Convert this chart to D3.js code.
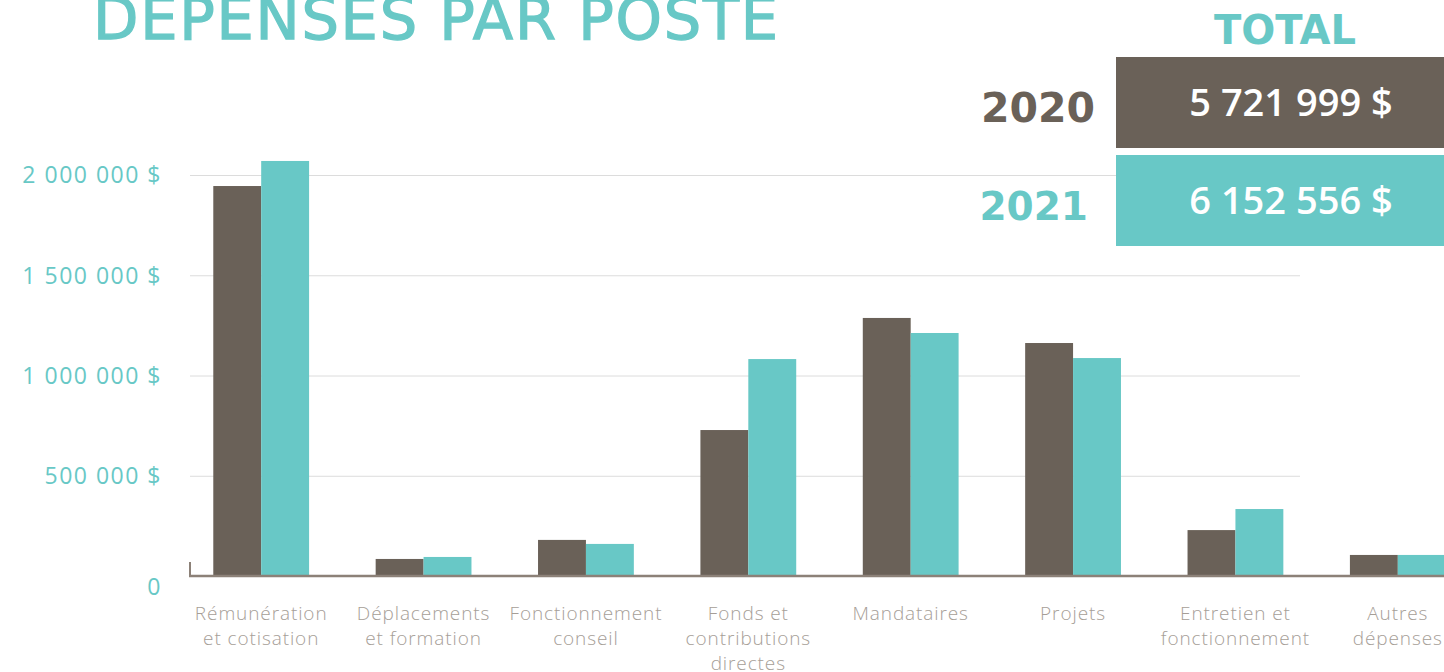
<!DOCTYPE html>
<html>
<head>
<meta charset="utf-8">
<script src="https://cdn.jsdelivr.net/npm/d3@7"></script>
<style>
    body { margin: 0; background: #fff; }
    svg { display: block; }
</style>
</head>
<body>
<div id="chart"></div>
<script>
// Chart values
const categories = [
    ["Rémunération", "et cotisation"],
    ["Déplacements", "et formation"],
    ["Fonctionnement", "conseil"],
    ["Fonds et", "contributions", "directes"],
    ["Mandataires"],
    ["Projets"],
    ["Entretien et", "fonctionnement"],
    ["Autres", "dépenses"]
];
const years = ["2020", "2021"];
const values2020 = [1945000, 85000, 180000, 728000, 1287000, 1162000, 229000, 105000];
const values2021 = [2070000, 95000, 160000, 1082000, 1212000, 1087000, 334000, 105000];
const totals = [5721999, 6152556];
const yTicks = [0, 500000, 1000000, 1500000, 2000000];

const brown = "#6a6158",
    teal = "#68c8c6";

const width = 1444, height = 672;

const svg = d3.select("#chart")
    .append("svg")
    .attr("width", width)
    .attr("height", height);

// French style numbers: 2 000 000 $
const fmt = d3.format(",d");
const money = d => fmt(d).replace(/,/g, " ") + " $";

// Scales
const x = d3.scaleBand()
    .domain(d3.range(categories.length))
    .range([180, 1479])
    .paddingInner(0.41)
    .paddingOuter(0.205);

const xSub = d3.scaleBand()
    .domain(years)
    .range([0, x.bandwidth()]);

const y = d3.scaleLinear()
    .domain([0, 2000000])
    .range([576, 175]);

// Gridlines
svg.append("g")
    .selectAll("line")
    .data(yTicks.filter(d => d > 0))
    .join("line")
    .attr("x1", 190)
    .attr("x2", 1300)
    .attr("y1", d => y(d) + 0.5)
    .attr("y2", d => y(d) + 0.5)
    .attr("stroke", "#dcdcdc")
    .attr("stroke-width", 1);

// Y axis labels
const yAxis = svg.append("g")
    .attr("transform", "translate(162,0)")
    .call(d3.axisLeft(y).tickValues(yTicks).tickSize(0).tickPadding(0)
        .tickFormat(d => d === 0 ? "0" : money(d)));
yAxis.select(".domain").remove();
yAxis.selectAll("text")
    .attr("fill", teal)
    .style("font-family", "'Open Sans', sans-serif")
    .style("font-size", "23px")
    .style("font-weight", 400)
    .style("letter-spacing", "1.5px")
    .attr("dy", d => d === 0 ? "0.8em" : "0.34em");

// Bars
const series = [values2020, values2021];
const colors = [brown, teal];
series.forEach((vals, i) => {
    svg.append("g")
        .selectAll("rect")
        .data(vals)
        .join("rect")
        .attr("x", (d, j) => x(j) + xSub(years[i]))
        .attr("width", xSub.bandwidth())
        .attr("y", d => y(d))
        .attr("height", d => y(0) - y(d) + 1)
        .attr("fill", colors[i]);
});

// Baseline axis
svg.append("line")
    .attr("x1", 189).attr("x2", width)
    .attr("y1", y(0)).attr("y2", y(0))
    .attr("stroke", "#8c8178").attr("stroke-width", 2.5);
svg.append("line")
    .attr("x1", 190).attr("x2", 190)
    .attr("y1", y(0) - 14).attr("y2", y(0))
    .attr("stroke", "#8c8178").attr("stroke-width", 2);

// Category labels
const catG = svg.append("g")
    .selectAll("text")
    .data(categories)
    .join("text")
    .attr("x", (d, i) => x(i) + x.bandwidth() / 2)
    .attr("y", 620)
    .attr("text-anchor", "middle")
    .attr("fill", "#a69e97")
    .style("font-family", "'Open Sans', sans-serif")
    .style("font-size", "19px")
    .style("font-weight", 300)
    .style("letter-spacing", "0.9px");
catG.selectAll("tspan")
    .data(d => d)
    .join("tspan")
    .attr("x", function() { return this.parentNode.getAttribute("x"); })
    .attr("dy", (d, i) => i === 0 ? 0 : 25)
    .text(d => d);

// Title
svg.append("text")
    .attr("x", 93)
    .attr("y", 39)
    .attr("fill", teal)
    .attr("stroke", teal)
    .attr("stroke-width", 1.3)
    .style("font-family", "'DejaVu Sans', sans-serif")
    .style("font-size", "59px")
    .style("font-weight", 400)
    .attr("textLength", 685)
    .text("DEPENSES PAR POSTE");

// Totals panel
svg.append("text")
    .attr("x", 1285)
    .attr("y", 44)
    .attr("text-anchor", "middle")
    .attr("fill", teal)
    .style("font-family", "'DejaVu Sans', sans-serif")
    .style("font-size", "40px")
    .style("font-weight", 700)
    .text("TOTAL");

const boxY = [57, 155];
totals.forEach((t, i) => {
    svg.append("rect")
        .attr("x", 1116)
        .attr("y", boxY[i])
        .attr("width", width - 1116)
        .attr("height", 91)
        .attr("fill", colors[i]);
    svg.append("text")
        .attr("x", 1291)
        .attr("y", boxY[i] + 59)
        .attr("text-anchor", "middle")
        .attr("fill", "#fff")
        .style("font-family", "'Open Sans', sans-serif")
        .style("font-size", "38px")
        .style("font-weight", 600)
        .text(money(t));
    svg.append("text")
        .attr("x", 1095 - i * 7)
        .attr("y", boxY[i] + 65)
        .attr("text-anchor", "end")
        .attr("fill", colors[i])
        .style("font-family", "'DejaVu Sans', sans-serif")
        .style("font-size", i === 0 ? "41px" : "39px")
        .style("font-weight", 700)
        .text(years[i]);
});
</script>
</body>
</html>
